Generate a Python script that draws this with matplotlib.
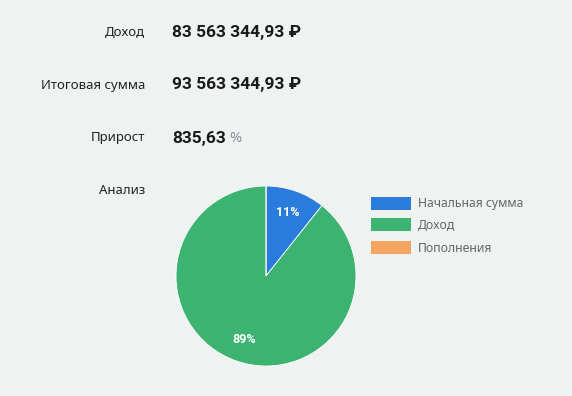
import matplotlib.pyplot as plt
from matplotlib.patches import Rectangle

plt.rcParams['font.family'] = ['Noto Sans', 'DejaVu Sans']

# ==============================
# data
# ==============================
row_labels = ["Доход", "Итоговая сумма", "Прирост"]
row_values = ["83 563 344,93 ₽", "93 563 344,93 ₽", "835,63"]
row_units = ["", "", "%"]

pie_labels = ["Начальная сумма", "Доход", "Пополнения"]
pie_values = [10_000_000.00, 83_563_344.93, 0.0]
pie_colors = ["#2a7bdc", "#3cb371", "#f5a562"]

bg = "#eef3f2"
W, H = 572, 396
bold_fam = ['Roboto', 'DejaVu Sans']

fig = plt.figure(figsize=(W / 100, H / 100), dpi=100, facecolor=bg)


def fx(px):
    return px / W


def fy(py):
    return 1 - py / H


# ==============================
# summary rows
# ==============================
row_y = [32, 85, 138]
for lab, val, unit, y in zip(row_labels, row_values, row_units, row_y):
    fig.text(fx(145), fy(y), lab, ha="right", va="center", fontsize=9.5, color="#222222")
    t = fig.text(fx(172), fy(y), val, ha="left", va="center", fontsize=12.5,
                 fontweight="bold", color="#1a1a1a", family=bold_fam)
    if unit:
        fig.canvas.draw()
        bb = t.get_window_extent()
        fig.text((bb.x1 + 4) / W, fy(y + 1), unit, ha="left", va="center",
                 fontsize=10.5, color="#8a9099")

fig.text(fx(145), fy(190), "Анализ", ha="right", va="center", fontsize=9.5, color="#222222")

# ==============================
# pie
# ==============================
cx, cy, r = 266, 276, 90
ax = fig.add_axes([fx(cx - r), fy(cy + r), (2 * r) / W, (2 * r) / H])
ax.set_facecolor(bg)


def pct(p):
    return f"{p:.0f}%" if p > 0.5 else ""


wedges, texts, autotexts = ax.pie(
    pie_values, colors=pie_colors, startangle=90, counterclock=False,
    autopct=pct, pctdistance=0.75, radius=1,
    wedgeprops=dict(linewidth=0.6, edgecolor="white"),
    textprops=dict(color="white", fontsize=9, fontweight="bold", family=bold_fam),
)
ax.set_xlim(-1, 1)
ax.set_ylim(-1, 1)
ax.set_aspect("equal")
ax.axis("off")

# ==============================
# legend
# ==============================
leg_y = [203, 225, 248]
for lab, col, y in zip(pie_labels, pie_colors, leg_y):
    fig.patches.append(Rectangle((fx(371), fy(y + 6.5)), 40 / W, 13 / H,
                                 transform=fig.transFigure, facecolor=col,
                                 edgecolor="none"))
    fig.text(fx(418), fy(y), lab, ha="left", va="center", fontsize=8.8, color="#666666")

fig.savefig("out.png", dpi=100, facecolor=bg)
